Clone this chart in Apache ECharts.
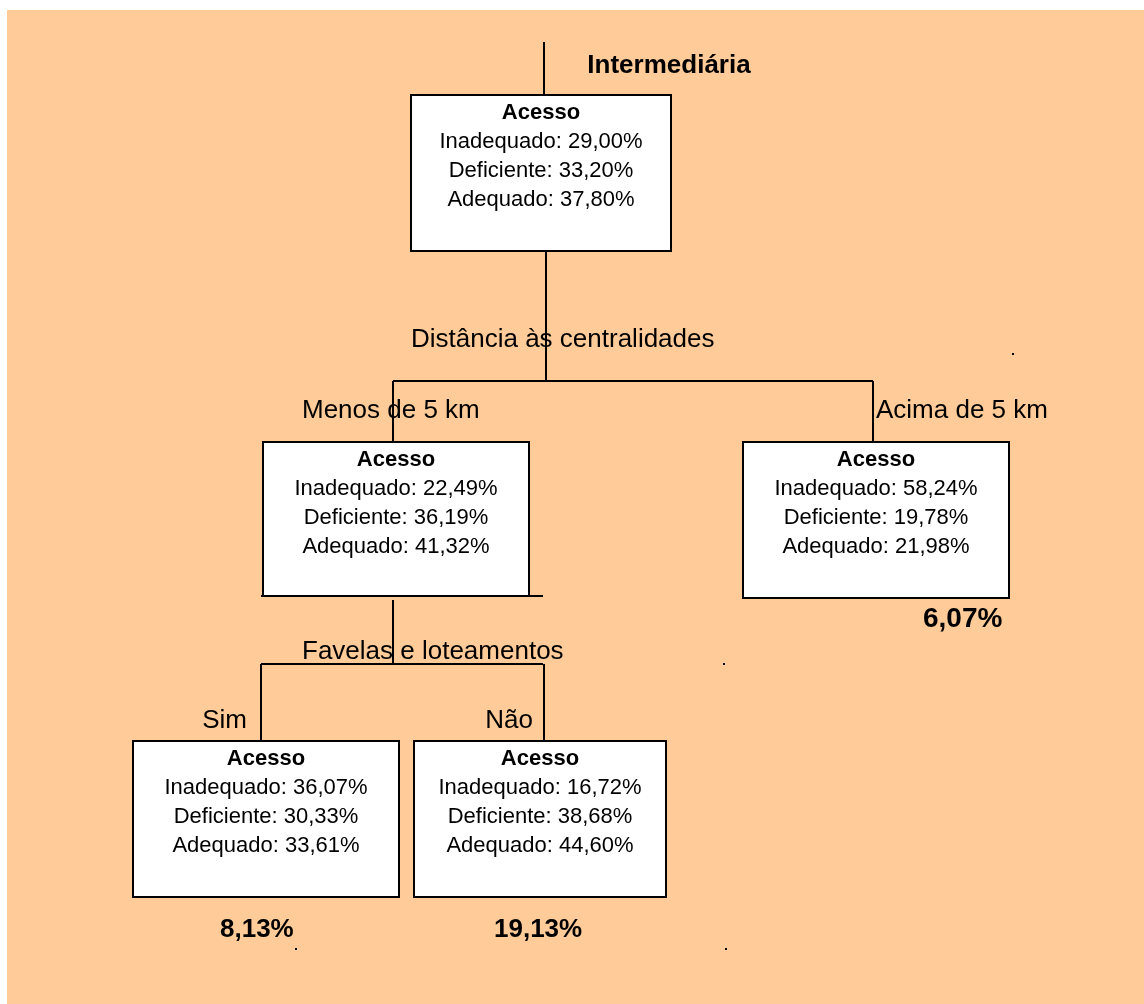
<!DOCTYPE html>
<html>
<head>
<meta charset="utf-8">
<script src="https://cdn.jsdelivr.net/npm/echarts@6/dist/echarts.min.js"></script>
<style>
html,body{margin:0;padding:0;background:#fff;}
#chart{width:1144px;height:1004px;}
</style>
</head>
<body>
<div id="chart"></div>
<script>
// ---------- DATA ----------
const categories = ['Inadequado', 'Deficiente', 'Adequado'];
const boxTitle = 'Acesso';
const rootName = 'Intermediária';
const nodeNames = ['Intermediária', 'Menos de 5 km', 'Acima de 5 km', 'Sim', 'Não'];
const inadequado = [29.00, 22.49, 58.24, 36.07, 16.72];
const deficiente = [33.20, 36.19, 19.78, 30.33, 38.68];
const adequado   = [37.80, 41.32, 21.98, 33.61, 44.60];
const shares     = [null, null, 6.07, 8.13, 19.13];
const splitLabels = ['Distância às centralidades', 'Favelas e loteamentos'];

// ---------- LAYOUT (diagram coordinates) ----------
const boxLayout = [
  [411, 95, 671, 251],
  [263, 442, 529, 596],
  [743, 442, 1009, 598],
  [133, 741, 399, 897],
  [414, 741, 666, 897]
];
const branchLabelPos = [null, [302, 411, 'left'], [876, 411, 'left'], [247, 721, 'right'], [533, 721, 'right']];
const sharePos = [null, null, [923, 619, 'left', 28], [220, 930, 'left', 26], [494, 930, 'left', 26]];
const splitPos = [[411, 340], [302, 652]];
const titlePos = [669, 66];
const segments = [
  [544, 42, 544, 95],
  [546, 251, 546, 380],
  [393, 381, 873, 381],
  [393, 381, 393, 442],
  [873, 381, 873, 442],
  [261, 596, 543, 596],
  [393, 600, 393, 664],
  [261, 664, 543, 664],
  [261, 664, 261, 741],
  [544, 664, 544, 741]
];
const dots = [[1013, 354], [724, 664], [296, 949], [726, 949]];

const FONT = "'Liberation Sans', Arial, Helvetica, sans-serif";
const fmt = v => v.toFixed(2).replace('.', ',') + '%';

const chart = echarts.init(document.getElementById('chart'), null, {renderer: 'canvas'});

const boxData = nodeNames.map((n, i) => ({
  value: [boxLayout[i][0], boxLayout[i][1], boxLayout[i][2], boxLayout[i][3]],
  idx: i
}));

const option = {
  animation: false,
  backgroundColor: '#ffffff',
  graphic: [{
    type: 'rect', left: 7, top: 10, z: -10,
    shape: {width: 1137, height: 994},
    style: {fill: '#FFCC99'}
  }],
  grid: {left: 0, right: 0, top: 0, bottom: 0},
  xAxis: {type: 'value', min: 0, max: 1144, show: false},
  yAxis: {type: 'value', min: 0, max: 1004, inverse: true, show: false},
  series: [
    {
      // connectors
      type: 'custom', coordinateSystem: 'cartesian2d', clip: false, silent: true,
      data: segments,
      renderItem: (params, api) => {
        const p1 = api.coord([api.value(0), api.value(1)]);
        const p2 = api.coord([api.value(2), api.value(3)]);
        return {type: 'line', shape: {x1: p1[0], y1: p1[1], x2: p2[0], y2: p2[1]},
                style: {stroke: '#000', lineWidth: 2}};
      }
    },
    {
      // dots
      type: 'custom', coordinateSystem: 'cartesian2d', clip: false, silent: true,
      data: dots,
      renderItem: (params, api) => {
        const p = api.coord([api.value(0), api.value(1)]);
        return {type: 'rect', shape: {x: p[0] - 1, y: p[1] - 1, width: 2, height: 2}, style: {fill: '#000'}};
      }
    },
    {
      // boxes
      type: 'custom', coordinateSystem: 'cartesian2d', clip: false, silent: true,
      data: boxData,
      renderItem: (params, api) => {
        const i = params.dataIndex;
        const a = api.coord([api.value(0), api.value(1)]);
        const b = api.coord([api.value(2), api.value(3)]);
        const cx = (a[0] + b[0]) / 2;
        const vals = [inadequado[i], deficiente[i], adequado[i]];
        const children = [{
          type: 'rect', shape: {x: a[0], y: a[1], width: b[0] - a[0], height: b[1] - a[1]},
          style: {fill: '#ffffff', stroke: '#000', lineWidth: 2}
        }, {
          type: 'text', style: {text: boxTitle, x: cx, y: a[1] + 18, textAlign: 'center', textVerticalAlign: 'middle',
            fill: '#000', font: 'bold 22px ' + FONT}
        }];
        categories.forEach((c, k) => {
          children.push({type: 'text', style: {text: c + ': ' + fmt(vals[k]), x: cx, y: a[1] + 47 + 29 * k,
            textAlign: 'center', textVerticalAlign: 'middle', fill: '#000', font: '22px ' + FONT}});
        });
        if (branchLabelPos[i]) {
          const bp = branchLabelPos[i];
          const q = api.coord([bp[0], bp[1]]);
          children.push({type: 'text', style: {text: nodeNames[i], x: q[0], y: q[1], textAlign: bp[2],
            textVerticalAlign: 'middle', fill: '#000', font: '26px ' + FONT}});
        }
        if (shares[i] != null) {
          const sp = sharePos[i];
          const q = api.coord([sp[0], sp[1]]);
          children.push({type: 'text', style: {text: fmt(shares[i]), x: q[0], y: q[1], textAlign: sp[2],
            textVerticalAlign: 'middle', fill: '#000', font: 'bold ' + sp[3] + 'px ' + FONT}});
        }
        return {type: 'group', children};
      }
    },
    {
      // split labels + root title
      type: 'custom', coordinateSystem: 'cartesian2d', clip: false, silent: true,
      data: splitLabels.map((s, i) => [splitPos[i][0], splitPos[i][1]]).concat([titlePos]),
      renderItem: (params, api) => {
        const i = params.dataIndex;
        const p = api.coord([api.value(0), api.value(1)]);
        if (i < splitLabels.length) {
          return {type: 'text', z2: 10, style: {text: splitLabels[i], x: p[0], y: p[1], textAlign: 'left',
            textVerticalAlign: 'middle', fill: '#000', font: '26px ' + FONT}};
        }
        return {type: 'text', style: {text: rootName, x: p[0], y: p[1], textAlign: 'center',
          textVerticalAlign: 'middle', fill: '#000', font: 'bold 26px ' + FONT}};
      }
    }
  ]
};
chart.setOption(option);
</script>
</body>
</html>
